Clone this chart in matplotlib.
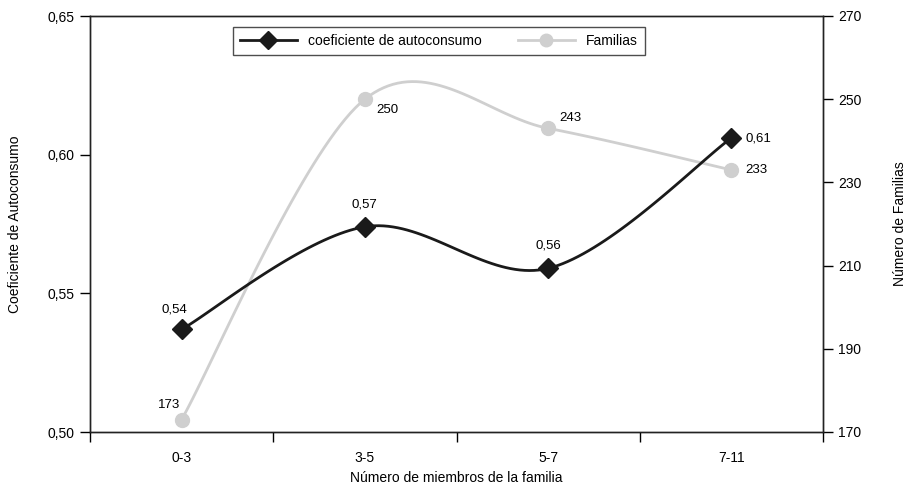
import numpy as np
import matplotlib
matplotlib.use("Agg")
import matplotlib.pyplot as plt
from matplotlib.lines import Line2D

plt.rcParams['font.family'] = ['Liberation Sans', 'DejaVu Sans']

categories = ["0-3", "3-5", "5-7", "7-11"]
coef = [0.537, 0.574, 0.559, 0.606]
coef_labels = ["0,54", "0,57", "0,56", "0,61"]
familias = [173, 250, 243, 233]
fam_labels = ["173", "250", "243", "233"]
left_ticks = [0.50, 0.55, 0.60, 0.65]
left_ticklabels = ["0,50", "0,55", "0,60", "0,65"]
right_ticks = [170, 190, 210, 230, 250, 270]


def smooth(xs, ys, n=40):
    xs = np.asarray(xs, float)
    ys = np.asarray(ys, float)
    P = np.column_stack([xs, ys])
    Pext = np.vstack([P[0], P, P[-1]])
    out = []
    for i in range(len(P) - 1):
        p0, p1, p2, p3 = Pext[i], Pext[i + 1], Pext[i + 2], Pext[i + 3]
        c1 = p1 + (p2 - p0) / 6.0
        c2 = p2 - (p3 - p1) / 6.0
        t = np.linspace(0, 1, n)[:, None]
        seg = (1 - t) ** 3 * p1 + 3 * (1 - t) ** 2 * t * c1 + 3 * (1 - t) * t ** 2 * c2 + t ** 3 * p2
        out.append(seg if i == 0 else seg[1:])
    out = np.vstack(out)
    return out[:, 0], out[:, 1]


fig = plt.figure(figsize=(9.11, 4.90), dpi=100)
ax = fig.add_axes([90 / 911, 58 / 490, 733 / 911, 416 / 490])
ax2 = ax.twinx()

x = np.arange(len(categories)) + 0.5
gray = "#cfcfcf"

gx, gy = smooth(x, familias)
ax2.plot(gx, gy, color=gray, lw=2, zorder=2)
ax2.plot(x, familias, linestyle="none", marker="o", ms=10, color=gray, zorder=3)

bx, by = smooth(x, coef)
ax.plot(bx, by, color="#1a1a1a", lw=2, zorder=4)
ax.plot(x, coef, linestyle="none", marker="D", ms=10, color="#1a1a1a", zorder=5)

ax.set_zorder(ax2.get_zorder() + 1)
ax.patch.set_visible(False)

ax.set_xlim(0, len(categories))
ax.set_ylim(0.50, 0.65)
ax2.set_ylim(170, 270)

ax.set_xticks(np.arange(len(categories) + 1))
ax.set_xticklabels([])
ax.set_xticks(x, minor=True)
ax.set_xticklabels(categories, minor=True, fontsize=10)
ax.tick_params(axis="x", which="minor", length=0, pad=14)
ax.tick_params(axis="x", which="major", length=7, direction="out", width=1)

ax.set_yticks(left_ticks)
ax.set_yticklabels(left_ticklabels, fontsize=10)
ax.tick_params(axis="y", length=7, direction="out", width=1, pad=4)
ax2.set_yticks(right_ticks)
ax2.set_yticklabels([str(v) for v in right_ticks], fontsize=10)
ax2.tick_params(axis="y", length=7, direction="out", width=1, pad=4)

for a in (ax, ax2):
    for s in a.spines.values():
        s.set_linewidth(1)
        s.set_color("#222222")

ax.set_xlabel("Número de miembros de la familia", fontsize=10, va="center")
ax.xaxis.set_label_coords(0.5, -46 / 416)
ax.set_ylabel("Coeficiente de Autoconsumo", fontsize=10, va="center")
ax.yaxis.set_label_coords(-75 / 733, 0.5)
ax2.set_ylabel("Número de Familias", fontsize=10, va="center", rotation=90)
ax2.yaxis.set_label_coords(1 + 77 / 733, 0.5)

# data labels
coef_off = [(-5, 10), (0, 12), (0, 12), (10, 0)]
coef_ha = ["center", "center", "center", "left"]
for xi, yi, lab, off, ha in zip(x, coef, coef_labels, coef_off, coef_ha):
    ax.annotate(lab, (xi, yi), xytext=off, textcoords="offset points", ha=ha,
                va="bottom" if off[1] > 0 else "center", fontsize=9.5, zorder=6)

fam_off = [(-1, 6), (8, -8), (8, 3), (10, 0)]
fam_ha = ["right", "left", "left", "left"]
fam_va = ["bottom", "center", "bottom", "center"]
for xi, yi, lab, off, ha, va in zip(x, familias, fam_labels, fam_off, fam_ha, fam_va):
    ax2.annotate(lab, (xi, yi), xytext=off, textcoords="offset points", ha=ha,
                 va=va, fontsize=9.5)

handles = [
    Line2D([], [], color="#1a1a1a", lw=2, marker="D", ms=9),
    Line2D([], [], color=gray, lw=2, marker="o", ms=9),
]
leg = ax.legend(handles, ["coeficiente de autoconsumo", "Familias"], ncol=2,
                loc="upper left", bbox_to_anchor=(143 / 733, 1 - 11 / 416),
                borderaxespad=0,
                frameon=True, fancybox=False, edgecolor="#222222", fontsize=10,
                handlelength=4.1, columnspacing=2.6, borderpad=0.5, handletextpad=0.8)
leg.get_frame().set_linewidth(1)

fig.savefig("out.png", dpi=100)
